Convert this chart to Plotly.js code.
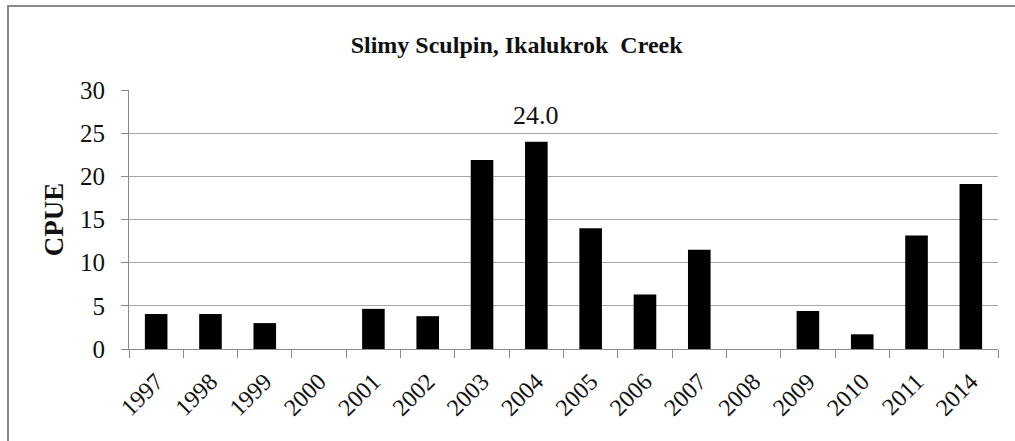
<!DOCTYPE html>
<html>
<head>
<meta charset="utf-8">
<script src="https://cdn.plot.ly/plotly-3.0.1.min.js"></script>
<style>
html, body { margin: 0; padding: 0; background: #fff; overflow: hidden; }
#wrap { position: relative; width: 1015px; height: 441px; overflow: hidden; }
#chart { position: absolute; left: 0; top: 0; width: 1015px; height: 441px; }
#frame { position: absolute; left: 7px; top: 5px; width: 1100px; height: 500px;
  border-top: 2px solid #8a8a8a; border-left: 2px solid #8a8a8a; pointer-events: none; }
</style>
</head>
<body>
<div id="wrap">
  <div id="chart"></div>
  <div id="frame"></div>
</div>
<script>
const years = ["1997","1998","1999","2000","2001","2002","2003","2004","2005","2006","2007","2008","2009","2010","2011","2014"];
const cpue = [4.05, 4.05, 3.0, 0, 4.65, 3.8, 21.9, 24.0, 14.0, 6.3, 11.5, 0, 4.4, 1.7, 13.15, 19.1];
const yTicks = [0, 5, 10, 15, 20, 25, 30];
const peakLabelYear = "2004";
const peakLabelValue = 24.0;

const serif = "Liberation Serif, Times New Roman, serif";

const trace = {
  type: 'bar',
  x: years,
  y: cpue,
  marker: { color: '#000000', line: { color: '#000000', width: 0 } },
  hoverinfo: 'x+y'
};

const layout = {
  width: 1015,
  height: 441,
  margin: { l: 129, r: 17, t: 90, b: 92, pad: 0 },
  paper_bgcolor: 'rgba(0,0,0,0)',
  plot_bgcolor: '#ffffff',
  showlegend: false,
  bargap: 0.584,
  font: { family: serif, color: '#111111' },
  title: {
    text: 'Slimy Sculpin, Ikalukrok  Creek',
    font: { family: serif, size: 24, color: '#111111', weight: 'bold' },
    x: 0.509, xref: 'container', xanchor: 'center',
    y: 0.898, yref: 'container', yanchor: 'middle'
  },
  xaxis: {
    type: 'category',
    categoryorder: 'array',
    categoryarray: years,
    range: [-0.5, years.length - 0.5],
    tickangle: -45,
    tickfont: { family: serif, size: 24, color: '#111111' },
    ticks: 'outside',
    tickson: 'boundaries',
    ticklen: 8,
    tickcolor: '#8a8a8a',
    tickwidth: 1,
    ticklabelstandoff: 8,
    showline: true,
    linecolor: '#8a8a8a',
    linewidth: 1,
    showgrid: false,
    zeroline: false,
    fixedrange: true
  },
  yaxis: {
    range: [0, 30],
    tickvals: yTicks,
    ticktext: yTicks.map(String),
    tickfont: { family: serif, size: 25, color: '#111111' },
    ticks: 'outside',
    ticklen: 7,
    tickcolor: '#8a8a8a',
    tickwidth: 1,
    ticklabelstandoff: 11,
    showline: true,
    linecolor: '#8a8a8a',
    linewidth: 1,
    showgrid: true,
    gridcolor: '#a6a6a6',
    gridwidth: 1,
    zeroline: false,
    fixedrange: true,
    title: {
      text: 'CPUE',
      font: { family: serif, size: 27, color: '#111111', weight: 'bold' },
      standoff: 8
    }
  },
  annotations: [{
    x: years.indexOf(peakLabelYear),
    y: peakLabelValue,
    xref: 'x', yref: 'y',
    text: peakLabelValue.toFixed(1),
    showarrow: false,
    xanchor: 'center',
    yanchor: 'middle',
    yshift: 26,
    font: { family: serif, size: 26, color: '#111111' }
  }]
};

Plotly.newPlot('chart', [trace], layout, { displayModeBar: false, staticPlot: true });
</script>
</body>
</html>
